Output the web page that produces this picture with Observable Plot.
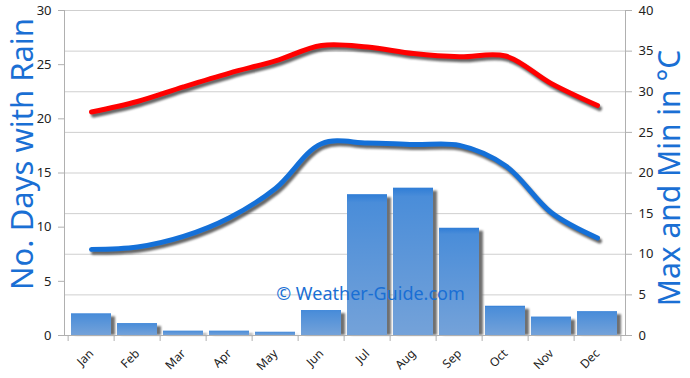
<!DOCTYPE html>
<html><head><meta charset="utf-8">
<script src="https://cdn.jsdelivr.net/npm/d3@7"></script>
<script src="https://cdn.jsdelivr.net/npm/@observablehq/plot@0.6"></script>
<style>
body{margin:0;background:#fff;}
.shadow{filter:blur(1.2px);}
</style>
</head><body><div id="chart"></div>
<script>
const months = ["Jan","Feb","Mar","Apr","May","Jun","Jul","Aug","Sep","Oct","Nov","Dec"];
const rainDays = [2.0, 1.1, 0.4, 0.4, 0.3, 2.3, 13.0, 13.6, 9.9, 2.7, 1.7, 2.2];
const maxTemp = [27.5, 28.8, 30.6, 32.3, 33.8, 35.7, 35.5, 34.7, 34.3, 34.4, 31.0, 28.3];
const minTemp = [10.6, 10.9, 12.2, 14.5, 18.1, 23.6, 23.7, 23.5, 23.4, 20.9, 15.1, 12.0];
const dayTicks = [0, 5, 10, 15, 20, 25, 30];
const tempTicks = [0, 5, 10, 15, 20, 25, 30, 35, 40];
const leftTitle = "No. Days with Rain";
const rightTitle = "Max and Min in °C";
const watermark = "© Weather-Guide.com";

const k = 30 / 40; // temperature -> days scale
const data = months.map((m, i) => ({month: m, rain: rainDays[i], max: maxTemp[i], min: minTemp[i]}));
const font = "'Noto Sans', sans-serif";
const blue = "#1a6fd4";

const plot = Plot.plot({
  width: 690,
  height: 378,
  marginLeft: 64,
  marginRight: 65,
  marginTop: 10,
  marginBottom: 43,
  style: {fontFamily: font, background: "#fff"},
  x: {domain: months, padding: 0.12, axis: null},
  y: {domain: [0, 30], axis: null},
  marks: [
    Plot.gridY(tempTicks.map(t => t * k), {stroke: "#cfcfcf", strokeOpacity: 1}),
    Plot.frame({anchor: "left", stroke: "#b0b0b0"}),
    Plot.frame({anchor: "right", stroke: "#b0b0b0"}),
    Plot.axisY(dayTicks, {anchor: "left", tickSize: 6, tickPadding: 7, label: null, stroke: "#b0b0b0", fill: "#222", fontSize: 13}),
    Plot.axisY(tempTicks.map(t => t * k), {anchor: "right", tickSize: 6, tickPadding: 7, label: null, tickFormat: d => Math.round(d / k), stroke: "#b0b0b0", fill: "#222", fontSize: 13}),
    Plot.axisX({anchor: "bottom", tickSize: 0, tickPadding: 16, tickRotate: -45, label: null, fill: "#222", fontSize: 12}),
    Plot.axisX({anchor: "bottom", tickSize: 6, tickFormat: () => "", label: null, dx: -23.375, stroke: "#b0b0b0"}),
    Plot.axisX(["Dec"], {anchor: "bottom", tickSize: 6, tickFormat: () => "", label: null, dx: 23.375, stroke: "#b0b0b0"}),
    Plot.barY(data, {x: "month", y1: 0, y2: "rain", fill: "#707070", dx: 4, insetTop: 3, className: "shadow"}),
    Plot.barY(data, {x: "month", y1: 0, y2: "rain", fill: "url(#rainGrad)"}),
    Plot.ruleY([0], {stroke: "#b0b0b0"}),
    Plot.line(data, {x: "month", y: d => d.max * k, curve: "catmull-rom", stroke: "#333", strokeOpacity: 0.75, strokeWidth: 5, dx: 2, dy: 3, className: "shadow"}),
    Plot.line(data, {x: "month", y: d => d.max * k, curve: "catmull-rom", stroke: "#f00", strokeWidth: 5}),
    Plot.line(data, {x: "month", y: d => d.min * k, curve: "catmull-rom", stroke: "#333", strokeOpacity: 0.75, strokeWidth: 5, dx: 2, dy: 3, className: "shadow"}),
    Plot.line(data, {x: "month", y: d => d.min * k, curve: "catmull-rom", stroke: "#1470d8", strokeWidth: 5}),
    Plot.text([leftTitle], {frameAnchor: "left", textAnchor: "middle", dx: -41, dy: -19, rotate: -90, fontSize: 31, fill: blue}),
    Plot.text([rightTitle], {frameAnchor: "right", textAnchor: "middle", dx: 45, dy: 5, rotate: -90, fontSize: 30, fill: blue}),
    Plot.text([watermark], {frameAnchor: "middle", dx: 25.5, dy: 121.5, fontSize: 18, fill: blue})
  ]
});

const ns = "http://www.w3.org/2000/svg";
const defs = document.createElementNS(ns, "defs");
defs.innerHTML = `<linearGradient id="rainGrad" x1="0" y1="0" x2="0" y2="1">
  <stop offset="0" stop-color="#2f7dd6"/>
  <stop offset="0.06" stop-color="#4a8dd9"/>
  <stop offset="1" stop-color="#74a2d9"/>
</linearGradient>`;
plot.insertBefore(defs, plot.firstChild);
document.getElementById("chart").appendChild(plot);
</script>
</body></html>
